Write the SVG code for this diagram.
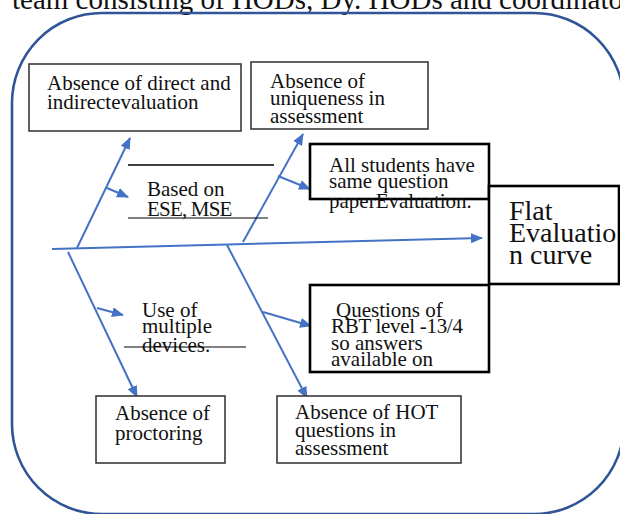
<svg xmlns="http://www.w3.org/2000/svg" width="620" height="514" viewBox="0 0 620 514">
<style>
text{font-family:"Liberation Serif","Times New Roman",serif;font-size:21px;fill:#111}
.big{font-size:28px}
.top{font-size:29px}
.gbox{fill:#fff;stroke:#3a3a3a;stroke-width:1.6}
.bbox{fill:#fff;stroke:#000;stroke-width:2.6}
.bone{stroke:#4472C4;stroke-width:2;fill:none}
.rule{stroke:#000;fill:none}
</style>
<defs>
<marker id="ah" viewBox="0 0 12 10" refX="11" refY="5" markerWidth="12" markerHeight="10" markerUnits="userSpaceOnUse" orient="auto">
<path d="M0,0 L12,5 L0,10 Z" fill="#4472C4"/>
</marker>
</defs>
<rect width="620" height="514" fill="#fff"/>
<text class="top" x="12" y="9">team consisting of HODs, Dy. HODs and coordinato</text>
<rect id="frame" x="12" y="13" width="612" height="501" rx="90" ry="90" fill="none" stroke="#2F5597" stroke-width="2.6"/>

<g id="connectors">
<line class="bone" x1="52" y1="249" x2="482" y2="238" marker-end="url(#ah)"/>
<line class="bone" x1="77" y1="248" x2="130" y2="138" marker-end="url(#ah)"/>
<line class="bone" x1="243" y1="242" x2="303" y2="134" marker-end="url(#ah)"/>
<line class="bone" x1="68" y1="252" x2="137" y2="397" marker-end="url(#ah)"/>
<line class="bone" x1="227" y1="245" x2="307" y2="398" marker-end="url(#ah)"/>
<line class="bone" x1="107" y1="188" x2="128" y2="197" marker-end="url(#ah)"/>
<line class="bone" x1="278" y1="176" x2="310" y2="189" marker-end="url(#ah)"/>
<line class="bone" x1="97" y1="308" x2="123" y2="315" marker-end="url(#ah)"/>
<line class="bone" x1="263" y1="312" x2="311" y2="326" marker-end="url(#ah)"/>
</g>

<g id="direct">
<rect class="gbox" x="29" y="64" width="212" height="67"/>
<text x="47" y="90">Absence of direct and</text>
<text x="47" y="109">indirectevaluation</text>
</g>

<g id="uniqueness">
<rect class="gbox" x="251" y="62" width="177" height="67"/>
<text x="270" y="88">Absence of</text>
<text x="270" y="105">uniqueness in</text>
<text x="270" y="123">assessment</text>
</g>

<g id="based">
<line class="rule" x1="128" y1="165" x2="274" y2="165" stroke-width="1.6"/>
<text x="147" y="196">Based on</text>
<text x="147" y="216" letter-spacing="-0.8">ESE, MSE</text>
<line class="rule" x1="128" y1="218" x2="268" y2="218" stroke-width="1"/>
</g>

<g id="students">
<rect class="bbox" x="310" y="144" width="179" height="55"/>
<text x="329" y="172">All students have</text>
<text x="329" y="188">same question</text>
<text x="329" y="208">paperEvaluation.</text>
</g>

<g id="flat">
<rect class="bbox" x="489" y="186" width="130" height="98"/>
<text class="big" x="509" y="220">Flat</text>
<text class="big" x="509" y="242">Evaluatio</text>
<text class="big" x="509" y="264">n curve</text>
</g>

<g id="devices">
<text x="142" y="317">Use of</text>
<text x="142" y="333">multiple</text>
<text x="142" y="352">devices.</text>
<line class="rule" x1="124" y1="347" x2="246" y2="347" stroke-width="1"/>
</g>

<g id="rbt">
<rect class="bbox" x="310" y="285" width="179" height="87"/>
<text x="336" y="317">Questions of</text>
<text x="331" y="333" letter-spacing="-0.3">RBT level -13/4</text>
<text x="331" y="350">so answers</text>
<text x="331" y="366">available on</text>
</g>

<g id="proctoring">
<rect class="gbox" x="96" y="396" width="129" height="67"/>
<text x="115" y="420">Absence of</text>
<text x="115" y="440">proctoring</text>
</g>

<g id="hot">
<rect class="gbox" x="277" y="396" width="184" height="67"/>
<text x="295" y="419">Absence of HOT</text>
<text x="295" y="437">questions in</text>
<text x="295" y="455">assessment</text>
</g>
</svg>
